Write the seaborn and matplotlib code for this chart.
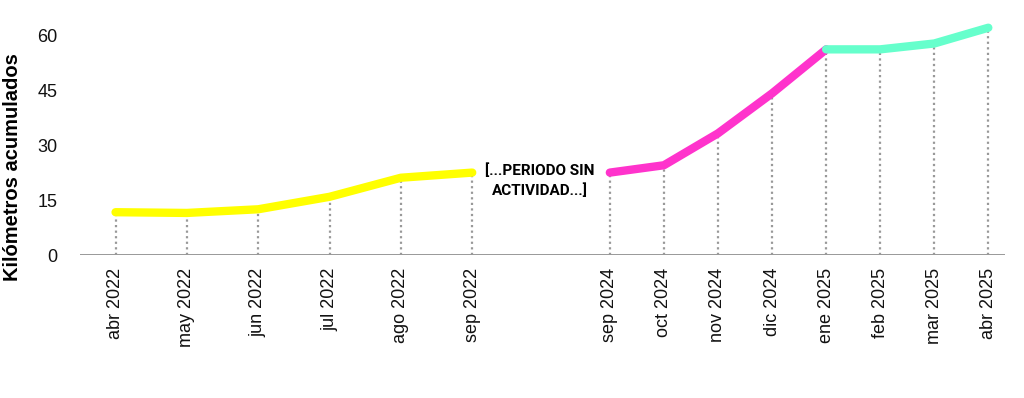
import pandas as pd
import matplotlib.pyplot as plt
import seaborn as sns

sns.set_theme(style='white')
plt.rcParams['font.family'] = ['Liberation Sans', 'DejaVu Sans']
plt.rcParams['text.color'] = 'black'
plt.rcParams['axes.labelcolor'] = 'black'
plt.rcParams['xtick.color'] = '#111111'
plt.rcParams['ytick.color'] = '#111111'

# Datos
meses_2022 = ['abr 2022', 'may 2022', 'jun 2022', 'jul 2022', 'ago 2022', 'sep 2022']
km_2022 = [11.7, 11.5, 12.5, 15.9, 21.1, 22.5]

meses_2024 = ['sep 2024', 'oct 2024', 'nov 2024', 'dic 2024',
              'ene 2025', 'feb 2025', 'mar 2025', 'abr 2025']
km_2024 = [22.5, 24.5, 33.2, 44.1, 56.1, 56.1, 57.7, 62.0]

yticks = [0, 15, 30, 45, 60]
col_amarillo = '#FFFF00'
col_rosa = '#FF33CC'
col_menta = '#66FFCC'

df1 = pd.DataFrame({'x': range(len(meses_2022)), 'km': km_2022})
df2 = pd.DataFrame({'x': range(len(meses_2024)), 'km': km_2024})
corte = meses_2024.index('ene 2025')

fig = plt.figure(figsize=(10.24, 3.98), dpi=100)
ax1 = fig.add_axes([0.078, 0.359, 0.418, 0.599])
ax2 = fig.add_axes([0.496, 0.359, 0.485, 0.599], sharey=ax1)

lw = 6
sns.lineplot(data=df1, x='x', y='km', ax=ax1, color=col_amarillo, linewidth=lw,
             solid_capstyle='round', solid_joinstyle='round')
sns.lineplot(data=df2.iloc[:corte + 1], x='x', y='km', ax=ax2, color=col_rosa,
             linewidth=lw, solid_capstyle='round', solid_joinstyle='round')
sns.lineplot(data=df2.iloc[corte:], x='x', y='km', ax=ax2, color=col_menta,
             linewidth=lw, solid_capstyle='round', solid_joinstyle='round')

# Líneas punteadas verticales
for ax, df in [(ax1, df1), (ax2, df2)]:
    ax.vlines(df['x'], 0, df['km'], colors='#999999', linestyles=(0, (1, 1.5)),
              linewidth=1.6, zorder=1)
    ax.axhline(0, color='#888888', linewidth=1.2, zorder=0)
    for s in ax.spines.values():
        s.set_visible(False)
    ax.set_xlabel('')
    ax.set_ylabel('')
    ax.tick_params(axis='x', length=0, pad=9, labelsize=13, labelrotation=90)

ax1.set_xlim(-0.5, 5.5)
ax1.set_xticks(df1['x'])
ax1.set_xticklabels(meses_2022)
ax2.set_xlim(-1.885, 7.3)
ax2.set_xticks(df2['x'])
ax2.set_xticklabels(meses_2024)

ax1.set_ylim(0, 65)
ax1.set_yticks(yticks)
ax1.tick_params(axis='y', length=0, pad=16, labelsize=13)
ax2.tick_params(axis='y', left=False, labelleft=False)
ax1.set_ylabel('Kilómetros acumulados', fontsize=14.5, fontweight='bold')
ax1.yaxis.set_label_coords(-0.135, 0.37)

ax2.text(-1.3, 20.3, '[...PERIODO SIN\nACTIVIDAD...]', ha='center', va='center',
         fontsize=11, fontweight='bold', linespacing=1.45,
         family=['Liberation Sans Narrow', 'Roboto', 'DejaVu Sans'])

plt.savefig('out.png', dpi=100)
